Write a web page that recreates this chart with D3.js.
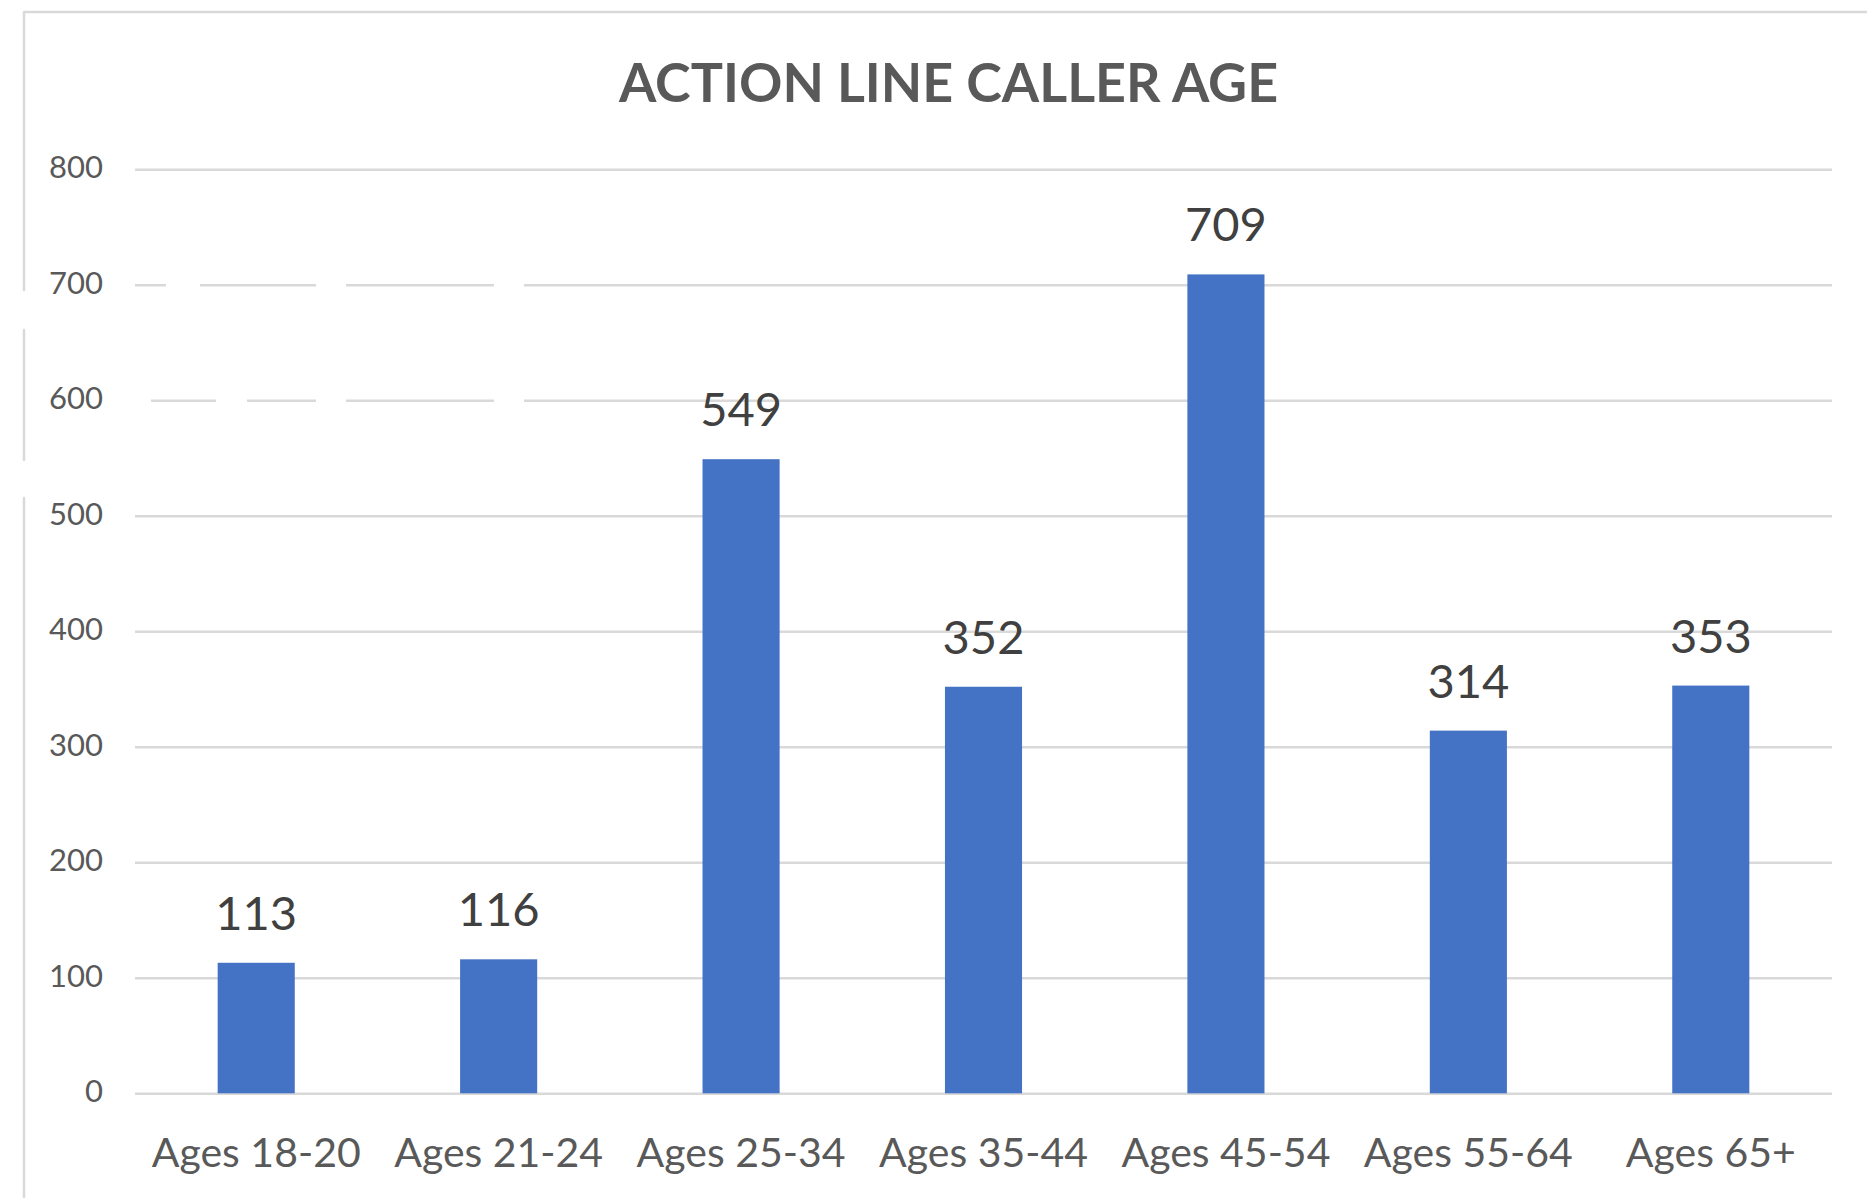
<!DOCTYPE html>
<html>
<head>
<meta charset="utf-8">
<script src="https://cdn.jsdelivr.net/npm/d3@7"></script>
<style>
    body { margin: 0; background: #fff; }
    svg { display: block; }
</style>
</head>
<body>
<div id="chart"></div>
<script>
// Chart data
const categories = ["Ages 18-20", "Ages 21-24", "Ages 25-34", "Ages 35-44", "Ages 45-54", "Ages 55-64", "Ages 65+"];
const callers = [113, 116, 549, 352, 709, 314, 353];
const yTicks = [0, 100, 200, 300, 400, 500, 600, 700, 800];
const chartTitle = "ACTION LINE CALLER AGE";

const width = 1867;
const height = 1198;
const plot = { left: 135, right: 1832, top: 169.3, bottom: 1093.3 };
const gridColor = "#d9d9d9";

// gaps in some gridlines and in the frame, as in the scanned original
const gridGaps = { 600: "0,16,65,31,69,30,148,30,3000", 700: "31,34,116,30,148,30,3000" };

const svg = d3.select("#chart").append("svg")
    .attr("width", width)
    .attr("height", height);

// Chart frame (top and left edge only visible)
svg.append("line")
    .attr("x1", 24).attr("x2", width)
    .attr("y1", 12).attr("y2", 12)
    .attr("stroke", gridColor).attr("stroke-width", 2.5);
svg.append("line")
    .attr("x1", 24).attr("x2", 24)
    .attr("y1", 12).attr("y2", height)
    .attr("stroke", gridColor).attr("stroke-width", 2.5)
    .attr("stroke-linecap", "round")
    .attr("stroke-dasharray", "278,40,130,38,3000");

// Scales
const x = d3.scaleBand()
    .domain(categories)
    .range([plot.left, plot.right])
    .paddingInner(0.682)
    .paddingOuter(0.341);

const y = d3.scaleLinear()
    .domain([0, 800])
    .range([plot.bottom, plot.top]);

// Y axis with gridlines
const yAxis = svg.append("g")
    .attr("transform", `translate(${plot.left},0)`)
    .call(d3.axisLeft(y)
        .tickValues(yTicks)
        .tickSize(-(plot.right - plot.left))
        .tickPadding(32));

yAxis.select(".domain").remove();
yAxis.selectAll(".tick line")
    .attr("stroke", gridColor)
    .attr("stroke-width", 2.5)
    .attr("stroke-dasharray", d => gridGaps[d] || null);
yAxis.selectAll(".tick text")
    .attr("fill", "#595959")
    .attr("dy", "0.28em")
    .style("font-family", "Lato, 'Open Sans', sans-serif")
    .style("font-size", "31px");

// Bars
svg.append("g")
    .selectAll("rect")
    .data(callers)
    .join("rect")
    .attr("x", (d, i) => x(categories[i]))
    .attr("y", d => y(d))
    .attr("width", x.bandwidth())
    .attr("height", d => y(0) - y(d))
    .attr("fill", "#4472c4");

// Data labels
svg.append("g")
    .selectAll("text")
    .data(callers)
    .join("text")
    .attr("x", (d, i) => x(categories[i]) + x.bandwidth() / 2)
    .attr("y", d => y(d) - 33)
    .attr("text-anchor", "middle")
    .attr("fill", "#404040")
    .style("font-family", "Lato, 'Open Sans', sans-serif")
    .style("font-size", "47px")
    .text(d => d);

// X axis labels
const xAxis = svg.append("g")
    .attr("transform", `translate(0,${plot.bottom})`)
    .call(d3.axisBottom(x).tickSize(0).tickPadding(45));

xAxis.select(".domain").remove();
xAxis.selectAll(".tick text")
    .attr("fill", "#595959")
    .style("font-family", "Lato, 'Open Sans', sans-serif")
    .style("font-size", "41px");

// Title
svg.append("text")
    .attr("x", 948.5)
    .attr("y", 101.7)
    .attr("text-anchor", "middle")
    .attr("fill", "#595959")
    .style("font-family", "Lato, 'Open Sans', sans-serif")
    .style("font-weight", "bold")
    .style("font-size", "53.8px")
    .text(chartTitle);
</script>
</body>
</html>
